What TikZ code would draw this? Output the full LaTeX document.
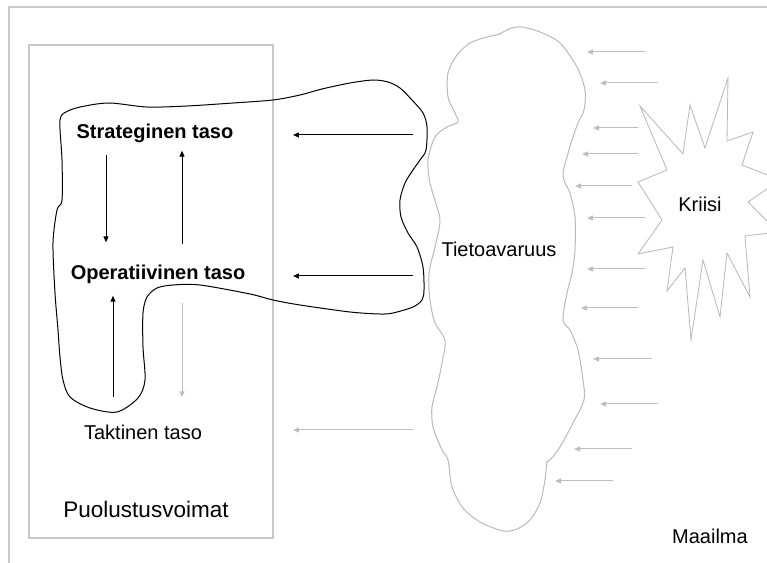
\documentclass[tikz,border=0pt]{standalone}
\usepackage{fontspec}
\setmainfont{Liberation Sans}
\usetikzlibrary{calc,arrows.meta}
\definecolor{framegray}{RGB}{200,200,200}
\definecolor{arrgray}{RGB}{190,190,190}
\definecolor{cloudgray}{RGB}{185,185,185}

\begin{document}
\begin{tikzpicture}[x=0.6pt,y=-0.6pt,
  blk/.style={black,line width=0.6pt,-{Triangle[length=3.6pt,width=3pt]}},
  gry/.style={arrgray,line width=0.6pt,-{Triangle[length=3.6pt,width=3pt]}},
  lvl/.style={font=\fontsize{12}{14}\selectfont,text height=9pt,text depth=3pt,inner sep=2pt}]
\useasboundingbox (0,0) rectangle (767,563);
\draw [framegray,line width=1.2pt] (9,563) -- (9,7) -- (767,7);
\node [draw=framegray,line width=1.2pt,minimum width=146.4pt,minimum height=295.8pt] (pv) at (151,291.5) {};
\node [lvl,font=\fontsize{13.5}{16}\selectfont] (pvname) at (146,513) {Puolustusvoimat};
\draw [black,line width=0.6pt] plot [smooth cycle,tension=0.5] coordinates {
  (60,120) (68,111) (85,106) (110,103) (147,107) (187,106) (233,103) (273,100)
  (300,95) (322,89) (350,83) (373,80) (388,82) (400,88) (412,100) (423,113)
  (427,127) (426,150) (420,160) (413,170) (405,183) (400,200) (401,217) (408,233)
  (417,247) (423,267) (424,290) (422,300) (413,307) (393,313) (380,314) (350,312)
  (300,305) (273,300) (250,294) (200,285) (173,285) (157,288) (147,297) (143,313)
  (143,347) (145,380) (138,398) (117,412) (90,408) (70,397) (63,380) (60,357)
  (58,330) (55,293) (53,243) (57,210) (62,200) (62,160)};
\draw [cloudgray,line width=0.6pt] plot [smooth cycle,tension=0.5] coordinates {
  (503,32) (512,28) (522,27) (540,32) (560,43) (577,67) (585,90) (584,110)
  (578,123) (572,140) (567,157) (563,173) (565,183) (570,193) (575,217) (575,250)
  (572,273) (567,293) (563,320) (570,330) (578,350) (583,380) (584,400) (573,423)
  (560,447) (550,460) (547,462) (545,480) (540,503) (530,520) (517,529) (503,531)
  (480,522) (463,508) (452,487) (448,460) (442,450) (433,427) (432,407) (437,387)
  (442,363) (445,340) (435,323) (430,300) (429,273) (435,247) (440,222) (437,207)
  (430,183) (428,160) (435,137) (447,127) (458,122) (455,113) (448,97) (448,73)
  (457,55) (470,43) (487,37) (500,34)};
\begin{scope}
\clip (0,0) rectangle (767,563);
\draw [cloudgray,line width=0.5pt,fill=white] (640,106) -- (683,154) -- (690,105) -- (705,148)
  -- (728,78) -- (727,141) -- (753,132) -- (742,165) -- (780,180) -- (748,202)
  -- (778,232) -- (745,236) -- (750,297) -- (727,253) -- (720,317) -- (703,260)
  -- (691,340) -- (685,268) -- (667,291) -- (673,247) -- (638,254) -- (662,220)
  -- (638,182) -- (667,170) -- cycle;
\end{scope}
\node [lvl,font=\fontsize{12}{14}\selectfont\bfseries] (strat) at (155,134) {Strateginen taso};
\node [lvl,font=\fontsize{12}{14}\selectfont\bfseries] (oper) at (158,275) {Operatiivinen taso};
\node [lvl] (takt) at (143,435) {Taktinen taso};
\node [lvl] (tieto) at (499,252) {Tietoavaruus};
\node [lvl] (kriisi) at (700,207) {Kriisi};
\node [lvl] (maailma) at (710,539) {Maailma};
\draw [blk] ([shift={(-49,7)}]strat.south) -- ([shift={(-52,-19)}]oper.north);
\draw [blk] ([shift={(24,-17)}]oper.north) -- ([shift={(27,3)}]strat.south);
\draw [blk] ([shift={(-30,-24)}]takt.north) -- ([shift={(-45,7)}]oper.south);
\draw [gry] ([shift={(24,14)}]oper.south) -- ([shift={(39,-24)}]takt.north);
\coordinate (tS) at (413,135);
\coordinate (tO) at (413,276);
\coordinate (tT) at (413,430);
\draw [blk] (tS) -- ($(tS -| pv.east)+(19,0)$);
\draw [blk] (tO) -- ($(tO -| pv.east)+(19,0)$);
\draw [gry] (tT) -- ($(tT -| pv.east)+(19,0)$);
\foreach \y/\a/\b in {52/645/587, 83/658/600, 128/638/593, 154/638/582, 186/632/575, 218/645/587,
  269/645/587, 308/638/581, 359/652/593, 404/658/600, 449/632/574, 481/613/555}
  \draw [gry] (\a,\y) -- (\b,\y);
\end{tikzpicture}
\end{document}
